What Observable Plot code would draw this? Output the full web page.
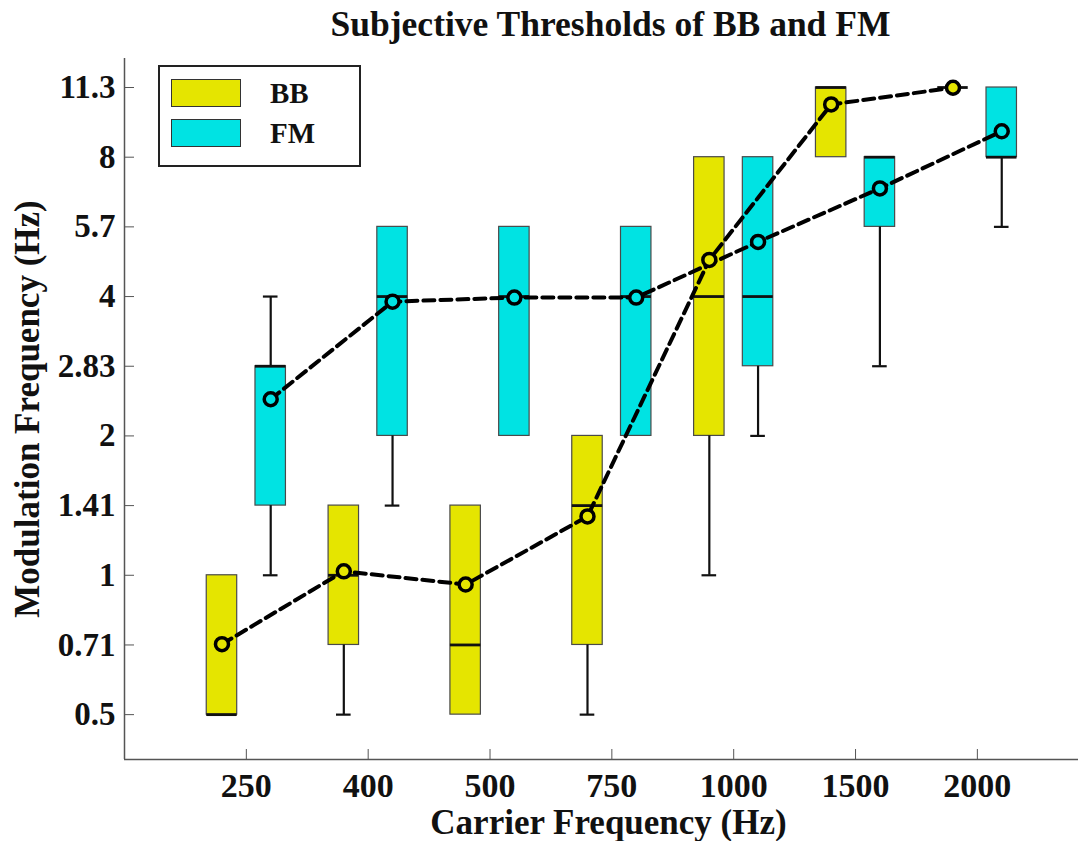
<!DOCTYPE html>
<html>
<head>
<meta charset="utf-8">
<script src="https://cdn.jsdelivr.net/npm/d3@7"></script>
<script src="https://cdn.jsdelivr.net/npm/@observablehq/plot@0.6"></script>
<style>
  body { margin: 0; background: #fff; }
  #wrap { position: relative; width: 1084px; height: 841px; font-family: "Liberation Serif", "Times New Roman", serif; }
  .legend { position: absolute; left: 158px; top: 65px; width: 199px; height: 98px; border: 2px solid #222; background: #fff; }
  .legend .sw { position: absolute; left: 11px; width: 70px; height: 28px; border: 1.5px solid #333; box-sizing: border-box; }
  .legend .lb { position: absolute; left: 110px; font-weight: bold; font-size: 29px; line-height: 30px; color: #111; }
</style>
</head>
<body>
<div id="wrap"></div>
<script>
// ---- data ----
const carriers = ["250", "400", "500", "750", "1000", "1500", "2000"];
const seriesNames = ["BB", "FM"];
const seriesColors = ["#e5e500", "#00e3e3"];

// BB
const bbQ1   = [0.5, 0.7071, 0.5, 0.7071, 2, 8, 11.3137];
const bbQ3   = [1, 1.4142, 1.4142, 2, 8, 11.3137, 11.3137];
const bbMed  = [0.5, 1, 0.7071, 1.4142, 4, 11.3137, 11.3137];
const bbLo   = [0.5, 0.5, 0.5, 0.5, 1, 8, 11.3137];
const bbHi   = [1, 1.4142, 1.4142, 2, 8, 11.3137, 11.3137];
const bbMean = [0.71, 1.02, 0.955, 1.34, 4.8, 10.4, 11.3];

// FM
const fmQ1   = [1.4142, 2, 2, 2, 2.8284, 5.6569, 8];
const fmQ3   = [2.8284, 5.6569, 5.6569, 5.6569, 8, 8, 11.3137];
const fmMed  = [2.8284, 4, 4, 4, 4, 8, 8];
const fmLo   = [1, 1.4142, 2, 2, 2, 2.8284, 5.6569];
const fmHi   = [4, 5.6569, 5.6569, 5.6569, 8, 8, 11.3137];
const fmMean = [2.4, 3.9, 3.98, 3.98, 5.25, 6.85, 9.1];

const yTickValues = [0.5, 0.7071, 1, 1.4142, 2, 2.8284, 4, 5.6569, 8, 11.3137];
const yTickLabels = ["0.5", "0.71", "1", "1.41", "2", "2.83", "4", "5.7", "8", "11.3"];
const xTickValues = [1, 2, 3, 4, 5, 6, 7];

// ---- build rows ----
const raw = [
  {q1: bbQ1, q3: bbQ3, med: bbMed, lo: bbLo, hi: bbHi, mean: bbMean, off: -0.2},
  {q1: fmQ1, q3: fmQ3, med: fmMed, lo: fmLo, hi: fmHi, mean: fmMean, off: 0.2}
];
const HALF = 0.125, CAP = 0.06;
const seriesRows = raw.map((s, k) => carriers.map((c, i) => ({
  series: seriesNames[k], color: seriesColors[k], carrier: c,
  pos: i + 1 + s.off,
  q1: s.q1[i], q3: s.q3[i], med: s.med[i], lo: s.lo[i], hi: s.hi[i], mean: s.mean[i]
})));
const rows = seriesRows.flat();
const yLabelMap = new Map(yTickValues.map((v, i) => [v, yTickLabels[i]]));

const fontBold = {fontWeight: "bold", fill: "#111"};

const marks = [];
// boxes
seriesRows.forEach((rs, k) => {
  marks.push(Plot.rect(rs, {x1: d => d.pos - HALF, x2: d => d.pos + HALF, y1: "q1", y2: "q3",
    fill: seriesColors[k], stroke: "#4a4a4a", strokeWidth: 1.2}));
});
// whiskers
const lowW = rows.filter(d => d.lo < d.q1), highW = rows.filter(d => d.hi > d.q3);
marks.push(
  Plot.ruleX(lowW, {x: "pos", y1: "lo", y2: "q1", stroke: "#111", strokeWidth: 2.2}),
  Plot.ruleX(highW, {x: "pos", y1: "q3", y2: "hi", stroke: "#111", strokeWidth: 2.2}),
  Plot.ruleY(lowW, {y: "lo", x1: d => d.pos - CAP, x2: d => d.pos + CAP, stroke: "#111", strokeWidth: 2.2}),
  Plot.ruleY(highW, {y: "hi", x1: d => d.pos - CAP, x2: d => d.pos + CAP, stroke: "#111", strokeWidth: 2.2}),
  // medians
  Plot.ruleY(rows, {y: "med", x1: d => d.pos - HALF, x2: d => d.pos + HALF, stroke: "#111", strokeWidth: 2.8})
);
// mean lines and markers
seriesRows.forEach((rs, k) => {
  marks.push(Plot.line(rs, {x: "pos", y: "mean", stroke: "#000", strokeWidth: 4, strokeDasharray: "11,6"}));
});
seriesRows.forEach((rs, k) => {
  marks.push(Plot.dot(rs, {x: "pos", y: "mean", r: 6.5, stroke: "#000", strokeWidth: 3.5, fill: seriesColors[k]}));
});
// axes
marks.push(
  Plot.ruleX([0], {stroke: "#555", strokeWidth: 1.5}),
  Plot.ruleY([0.4], {stroke: "#555", strokeWidth: 1.5}),
  Plot.axisX(xTickValues, {tickFormat: i => carriers[i - 1], tickSize: -10, tickPadding: 23,
    fontSize: 34, ...fontBold, stroke: "#555", label: null}),
  Plot.axisY(yTickValues, {tickFormat: v => yLabelMap.get(v), tickSize: -10, tickPadding: 19,
    fontSize: 33, ...fontBold, stroke: "#555", label: null}),
  Plot.text(["Subjective Thresholds of BB and FM"], {frameAnchor: "top", dx: 9, dy: -23, lineAnchor: "bottom",
    textAnchor: "middle", fontSize: 35.5, ...fontBold}),
  Plot.text(["Carrier Frequency (Hz)"], {frameAnchor: "bottom", dx: 7, dy: 74, lineAnchor: "bottom",
    textAnchor: "middle", fontSize: 35, ...fontBold}),
  Plot.text(["Modulation Frequency (Hz)"], {frameAnchor: "left", dx: -86, rotate: -90, lineAnchor: "bottom",
    textAnchor: "middle", fontSize: 35, ...fontBold})
);

const chart = Plot.plot({
  width: 1084, height: 841,
  marginTop: 58, marginBottom: 82, marginLeft: 124, marginRight: 6,
  style: {fontFamily: '"Liberation Serif", "Times New Roman", serif', background: "#fff", overflow: "visible"},
  x: {type: "linear", domain: [0, 7.83], axis: null},
  y: {type: "log", base: 2, domain: [0.4, 13.07], axis: null},
  marks
});
const wrap = document.getElementById("wrap");
wrap.appendChild(chart);

// legend
const legend = document.createElement("div");
legend.className = "legend";
seriesNames.forEach((n, k) => {
  const sw = document.createElement("div");
  sw.className = "sw"; sw.style.top = (12 + k * 40) + "px"; sw.style.background = seriesColors[k];
  const lb = document.createElement("div");
  lb.className = "lb"; lb.style.top = (11 + k * 40) + "px"; lb.textContent = n;
  legend.appendChild(sw); legend.appendChild(lb);
});
wrap.appendChild(legend);
</script>
</body>
</html>
